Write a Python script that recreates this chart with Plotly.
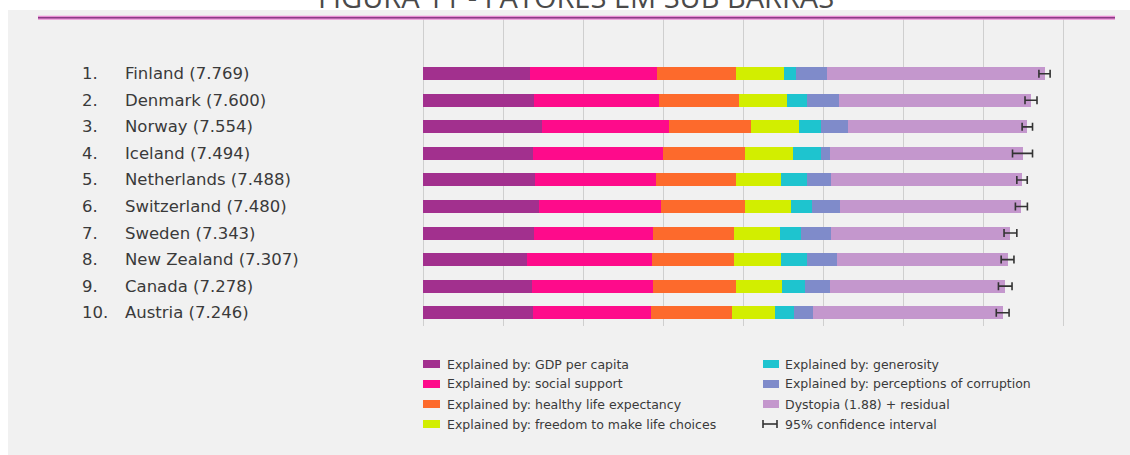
import plotly.graph_objects as go

# ---------------- data ----------------
ranks = ["1.", "2.", "3.", "4.", "5.", "6.", "7.", "8.", "9.", "10."]
countries = ["Finland", "Denmark", "Norway", "Iceland", "Netherlands",
             "Switzerland", "Sweden", "New Zealand", "Canada", "Austria"]
scores = [7.769, 7.600, 7.554, 7.494, 7.488, 7.480, 7.343, 7.307, 7.278, 7.246]

gdp = [1.340, 1.383, 1.488, 1.380, 1.396, 1.452, 1.387, 1.303, 1.365, 1.376]
social = [1.587, 1.573, 1.582, 1.624, 1.522, 1.526, 1.487, 1.557, 1.505, 1.475]
health = [0.986, 0.996, 1.028, 1.026, 0.999, 1.052, 1.009, 1.026, 1.039, 1.016]
freedom = [0.596, 0.592, 0.603, 0.591, 0.557, 0.572, 0.574, 0.585, 0.584, 0.532]
generosity = [0.153, 0.252, 0.271, 0.354, 0.322, 0.263, 0.267, 0.330, 0.285, 0.244]
corruption = [0.393, 0.410, 0.341, 0.118, 0.298, 0.343, 0.373, 0.380, 0.308, 0.226]
dystopia = [2.714, 2.394, 2.241, 2.401, 2.394, 2.272, 2.246, 2.126, 2.192, 2.377]
ci_half = [0.070, 0.075, 0.065, 0.125, 0.065, 0.075, 0.080, 0.080, 0.085, 0.080]

series_names = ["Explained by: GDP per capita",
                "Explained by: social support",
                "Explained by: healthy life expectancy",
                "Explained by: freedom to make life choices",
                "Explained by: generosity",
                "Explained by: perceptions of corruption",
                "Dystopia (1.88) + residual"]
series_values = [gdp, social, health, freedom, generosity, corruption, dystopia]
series_colors = ["#a2308e", "#fe0b8b", "#fd6a2c", "#d2ee00",
                 "#1ec4cf", "#7f8bca", "#c497cd"]
ci_label = "95% confidence interval"
title_text = "FIGURA 11 - FATORES EM SUB BARRAS"

# ---------------- geometry ----------------
W, H = 1130, 455
L, R, T, B = 419, 63, 18, 129
PW, PH = W - L - R, H - T - B


def px(x):
    return (x - L) / PW


def py(y):
    return (H - B - y) / PH


FONT = "DejaVu Sans"
TXT = "#3a3a3a"

fig = go.Figure()
rows = list(range(len(countries)))

for name, vals, col in zip(series_names, series_values, series_colors):
    fig.add_trace(go.Bar(
        x=vals, y=rows, orientation="h", name=name,
        marker=dict(color=col, line=dict(width=0)),
        width=0.49, showlegend=False, hoverinfo="skip"))

fig.add_trace(go.Scatter(
    x=scores, y=rows, mode="markers", name=ci_label,
    marker=dict(size=1, color="rgba(0,0,0,0)"),
    error_x=dict(type="data", array=ci_half, color="#333333",
                 thickness=1.6, width=4),
    showlegend=False, hoverinfo="skip"))

shapes = []
# grey panel
shapes.append(dict(type="rect", xref="paper", yref="paper",
                   x0=px(8), x1=px(1130), y0=py(455), y1=py(10),
                   fillcolor="#f1f1f1", line=dict(width=0), layer="below"))
# header rule
shapes.append(dict(type="line", xref="paper", yref="paper",
                   x0=px(38), x1=px(1115), y0=py(17.8), y1=py(17.8),
                   line=dict(color="#ea8fd5", width=4)))
shapes.append(dict(type="line", xref="paper", yref="paper",
                   x0=px(38), x1=px(1115), y0=py(17.8), y1=py(17.8),
                   line=dict(color="#8a3d86", width=1.5)))

annotations = []
annotations.append(dict(text=title_text, xref="paper", yref="paper",
                        x=px(576), y=py(-4), xanchor="center", yanchor="middle",
                        showarrow=False,
                        font=dict(family="Open Sans", size=29, color="#4a4a4a")))

for i in rows:
    annotations.append(dict(text=ranks[i], xref="paper", yref="y",
                            x=px(80), y=i, xanchor="left", yanchor="middle",
                            showarrow=False,
                            font=dict(family=FONT, size=16.5, color=TXT)))
    annotations.append(dict(text=f"{countries[i]} ({scores[i]:.3f})",
                            xref="paper", yref="y",
                            x=px(123), y=i, xanchor="left", yanchor="middle",
                            showarrow=False,
                            font=dict(family=FONT, size=16.5, color=TXT)))

# legend (two columns)
row_y = [364, 384, 404, 424]
cols_x = [(423, 440, 445), (763, 779, 783)]
entries = list(zip(series_names, series_colors)) + [(ci_label, None)]
for k, (label, col) in enumerate(entries):
    c = 0 if k < 4 else 1
    r = k % 4
    x0, x1, xt = cols_x[c]
    yc = row_y[r]
    if col is not None:
        shapes.append(dict(type="rect", xref="paper", yref="paper",
                           x0=px(x0), x1=px(x1), y0=py(yc + 4), y1=py(yc - 4),
                           fillcolor=col, line=dict(width=0)))
    else:
        for seg in [(x0, yc, x1 - 2, yc), (x0, yc - 4, x0, yc + 4),
                    (x1 - 2, yc - 4, x1 - 2, yc + 4)]:
            shapes.append(dict(type="line", xref="paper", yref="paper",
                               x0=px(seg[0]), x1=px(seg[2]),
                               y0=py(seg[1]), y1=py(seg[3]),
                               line=dict(color="#333333", width=1.6)))
    annotations.append(dict(text=label, xref="paper", yref="paper",
                            x=px(xt), y=py(yc), xanchor="left", yanchor="middle",
                            showarrow=False,
                            font=dict(family=FONT, size=12.5, color=TXT)))

fig.update_layout(
    width=W, height=H,
    margin=dict(l=L, r=R, t=T, b=B, pad=0),
    paper_bgcolor="white", plot_bgcolor="#f1f1f1",
    barmode="stack", bargap=0.5,
    showlegend=False,
    shapes=shapes, annotations=annotations,
    xaxis=dict(range=[-0.05, 8.05], dtick=1, tick0=0, showticklabels=False,
               showgrid=True, gridcolor="#cfcfcf", gridwidth=1,
               zeroline=True, zerolinecolor="#cfcfcf", zerolinewidth=1,
               showline=False, ticks="", fixedrange=True),
    yaxis=dict(range=[9.5, -2.1], showticklabels=False, showgrid=False,
               zeroline=False, showline=False, ticks="", fixedrange=True),
)

fig.write_html("out.html", config={"displayModeBar": False},
               post_script="document.body.style.margin='0';"
                           "document.body.style.overflow='hidden';")
